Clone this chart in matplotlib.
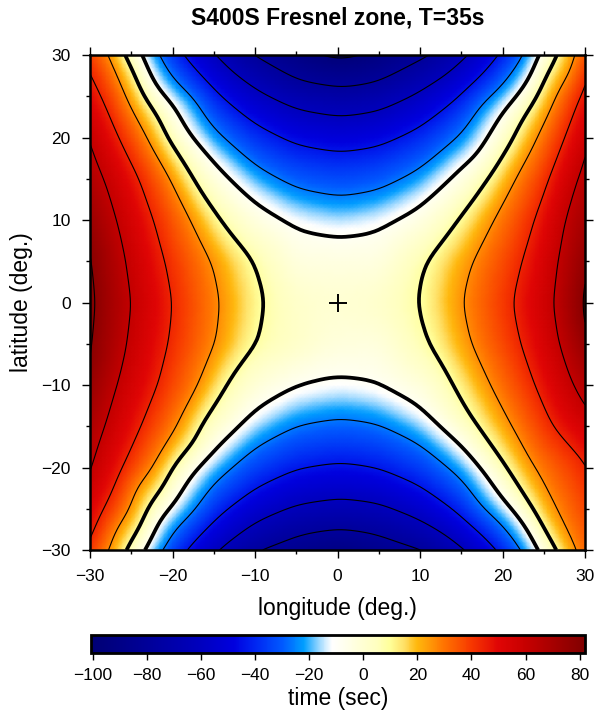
import numpy as np
import matplotlib
matplotlib.use('Agg')
import matplotlib.pyplot as plt
import matplotlib.tri as mtri
from matplotlib.colors import LinearSegmentedColormap
from matplotlib.ticker import MultipleLocator

plt.rcParams['font.family'] = ['Liberation Sans', 'DejaVu Sans']
plt.rcParams['contour.negative_linestyle'] = 'solid'

# points (lon, lat) read along every drawn isochron, one list per branch
# positive isochrons: west (w) and east (e) branches
p875_w = [(-26.0, 30), (-23.6, 25), (-20.9, 20), (-17.8, 15), (-14.5, 10), (-10.4, 5), (-9.2, 0),
          (-10.2, -5), (-13.8, -10), (-17.0, -15), (-20.3, -20), (-23.2, -25), (-25.8, -30)]
p875_e = [(26.8, 30), (24.3, 25), (21.5, 20), (18.4, 15), (14.8, 10), (11.0, 5), (10.2, 0),
          (11.4, -5), (14.2, -10), (17.0, -15), (20.5, -20), (23.7, -25), (26.7, -30)]
p2625_w = [(-27.3, 30), (-25.4, 25), (-22.8, 20), (-19.9, 15), (-17.5, 10), (-15.1, 5), (-14.1, 0),
           (-14.6, -5), (-16.5, -10), (-19.1, -15), (-22.0, -20), (-24.8, -25), (-27.4, -30)]
p2625_e = [(28.5, 30), (26.2, 25), (24.0, 20), (21.3, 15), (18.7, 10), (16.2, 5), (15.0, 0),
           (16.0, -5), (18.3, -10), (20.9, -15), (23.5, -20), (26.0, -25), (28.4, -30)]
p4375_w = [(-30, 27.8), (-28.5, 25), (-26.5, 20), (-24.0, 15), (-22.3, 10), (-21.0, 5), (-20.1, 0),
           (-20.6, -5), (-21.8, -10), (-23.8, -15), (-26.0, -20), (-28.2, -25), (-30, -28.8)]
p4375_e = [(30, 26.4), (29.3, 25), (27.6, 20), (25.8, 15), (24.0, 10), (22.5, 5), (21.3, 0),
           (22.3, -5), (24.0, -10), (26.1, -15), (30, -19.3)]
p6125_w = [(-30, 19.5), (-28.2, 15), (-26.8, 10), (-25.7, 5), (-25.0, 0), (-25.6, -5), (-26.8, -10),
           (-28.2, -15), (-30, -20.7)]
p6125_e = [(30, 17.9), (28.7, 15), (27.5, 10), (26.8, 5), (26.3, 0), (27.0, -5), (28.5, -10), (30, -12.6)]
p7875_w = [(-30, 6.2), (-29.6, 0), (-30, -7.0)]
p7875_e = [(30, 2.5), (29.5, 0), (30, -3.0)]

# negative isochrons: north (n) and south (s) arcs
m875_n = [(-23.5, 30), (-20, 24.1), (-15, 17.2), (-10, 12.3), (-5, 9.3), (0.3, 8.2), (5, 9.1),
          (10, 11.8), (15, 16.5), (20, 23.1), (24.1, 30)]
m2625_n = [(-21.9, 30), (-20, 26.9), (-15, 20.8), (-10, 16.4), (-5, 13.7), (0.3, 12.7), (5, 13.5),
           (10, 16.0), (15, 20.2), (20, 26.1), (22.9, 30)]
m4375_n = [(-18.7, 30), (-15, 25.8), (-10, 21.7), (-5, 19.2), (0.3, 18.3), (5, 19.0), (10, 21.3),
           (15, 25.2), (19.5, 30)]
m6125_n = [(-14.8, 30), (-10, 25.9), (-5, 23.5), (0.3, 22.6), (5, 23.3), (10, 25.6), (15.9, 30)]
m7875_n = [(-10.4, 30), (-5, 26.9), (0.5, 26.0), (5, 26.7), (11.4, 30)]
m9625_n = [(-2.0, 30), (0.5, 29.5), (3.0, 30)]
m875_s = [(-23.1, -30), (-20, -24.6), (-15, -18.1), (-10, -13.3), (-5, -10.4), (0.3, -9.4), (5, -10.2),
          (10, -12.9), (15, -17.4), (20, -23.8), (24.1, -30)]
m2625_s = [(-21.5, -30), (-20, -27.6), (-15, -21.7), (-10, -17.4), (-5, -14.8), (0.3, -13.9), (5, -14.6),
           (10, -17.0), (15, -21.1), (20, -26.8), (22.5, -30)]
m4375_s = [(-18.3, -30), (-15, -26.4), (-10, -22.6), (-5, -20.3), (0.3, -19.5), (5, -20.2), (10, -22.3),
           (15, -25.9), (19.3, -30)]
m6125_s = [(-14.4, -30), (-10, -26.7), (-5, -24.6), (0.3, -23.8), (5, -24.4), (10, -26.4), (15.5, -30)]
m7875_s = [(-9.6, -30), (-5, -28.1), (0.3, -27.4), (5, -28.0), (10.6, -30)]

# spot values (lon, lat, time in sec): centre, edge extremes and corners
spots = [(0, 0, 0.0), (-5, 0, 2.0), (5, 0, 1.8), (0, 5, -3.5), (0, -5, -2.5),
         (0, 30, -99.5), (0, -30, -91.5), (-30, 0, 82.0), (30, 0, 80.5),
         (-30, 30, 38.5), (30, 30, 35.0), (-30, -30, 40.0), (30, -30, 32.0)]

isochrons = [(-96.25, [m9625_n]), (-78.75, [m7875_n, m7875_s]), (-61.25, [m6125_n, m6125_s]),
             (-43.75, [m4375_n, m4375_s]), (-26.25, [m2625_n, m2625_s]), (-8.75, [m875_n, m875_s]),
             (8.75, [p875_w, p875_e]), (26.25, [p2625_w, p2625_e]), (43.75, [p4375_w, p4375_e]),
             (61.25, [p6125_w, p6125_e]), (78.75, [p7875_w, p7875_e])]
thick_levels = [-8.75, 8.75]
centre_lon, centre_lat = 0.0, 0.0
time_min, time_max = -100.85, 82.1
cbar_ticks = [-100, -80, -60, -40, -20, 0, 20, 40, 60, 80]

# colour table
cpt_values = [-100.85, -80, -60, -48, -40, -30, -22, -16, -11.5, -5, 5, 10, 15, 20, 30, 40, 50, 60, 82.1]
cpt_colors = ['#000073', '#000099', '#0000bf', '#0000de', '#0026f2', '#0059ff', '#009eff',
              '#a6dcff', '#ffffff', '#ffffe6', '#ffffbf', '#ffff99', '#ffe066', '#ffb80d',
              '#ff7300', '#f73800', '#e00505', '#c70000', '#800000']

pos = [(v - time_min) / (time_max - time_min) for v in cpt_values]
cmap = LinearSegmentedColormap.from_list('fresnel', list(zip(pos, cpt_colors)), N=512)

xs, ys, zs = [], [], []
for level, branches in isochrons:
    for branch in branches:
        for lo, la in branch:
            xs.append(lo)
            ys.append(la)
            zs.append(level)
for lo, la, t in spots:
    xs.append(lo)
    ys.append(la)
    zs.append(t)
thin_levels = [lv for lv, _ in isochrons if lv not in thick_levels]

# scattered readings -> 0.5 deg mesh (linear), then a light gaussian blur to round off kinks
tri_pts = mtri.Triangulation(xs, ys)
lin = mtri.LinearTriInterpolator(tri_pts, zs)
g = np.linspace(-30, 30, 121)
GX, GY = np.meshgrid(g, g)
GZ = lin(np.clip(GX, -29.999, 29.999), np.clip(GY, -29.999, 29.999))
GZ = np.ma.filled(GZ, 0.0)

sigma, r = 2.6, 9
kern = np.exp(-0.5 * (np.arange(-r, r + 1) / sigma) ** 2)
kern /= kern.sum()
P = np.pad(GZ, r, mode='reflect', reflect_type='odd')
P = np.apply_along_axis(lambda v: np.convolve(v, kern, mode='valid'), 0, P)
P = np.apply_along_axis(lambda v: np.convolve(v, kern, mode='valid'), 1, P)

fig = plt.figure(figsize=(5.97, 7.13), dpi=100)
ax = fig.add_axes([90 / 597, 1 - 550 / 713, 495 / 597, 495 / 713])

img = ax.pcolormesh(GX, GY, P, shading='gouraud', cmap=cmap, vmin=time_min, vmax=time_max)
ax.contour(GX, GY, P, levels=thin_levels, colors='k', linewidths=0.8)
ax.contour(GX, GY, P, levels=thick_levels, colors='k', linewidths=2.7)
ax.plot(centre_lon, centre_lat, marker='+', ms=13, mew=1.4, color='k')

ax.set_xlim(-30, 30)
ax.set_ylim(-30, 30)
ax.xaxis.set_major_locator(MultipleLocator(10))
ax.xaxis.set_minor_locator(MultipleLocator(5))
ax.yaxis.set_major_locator(MultipleLocator(10))
ax.yaxis.set_minor_locator(MultipleLocator(5))
ax.tick_params(which='both', direction='out', top=True, right=True, width=1.0)
ax.tick_params(which='major', length=6, labelsize=12.5, pad=8)
ax.tick_params(which='minor', length=3)
for s in ax.spines.values():
    s.set_linewidth(1.8)
ax.set_xlabel('longitude (deg.)', fontsize=16.5, labelpad=9)
ax.set_ylabel('latitude (deg.)', fontsize=16.5, labelpad=6)
ax.set_title('S400S Fresnel zone, T=35s', fontsize=16.5, fontweight='bold', pad=22)

cax = fig.add_axes([90.7 / 597, 1 - 652.7 / 713, 494.6 / 597, 17.7 / 713])
cb = fig.colorbar(img, cax=cax, orientation='horizontal', ticks=cbar_ticks)
cb.outline.set_linewidth(2.0)
cb.ax.tick_params(direction='out', length=5, width=1.0, labelsize=12.5, pad=6)
cb.ax.minorticks_off()
cb.set_label('time (sec)', fontsize=16.5, labelpad=3)

fig.savefig('out.png', dpi=100)
